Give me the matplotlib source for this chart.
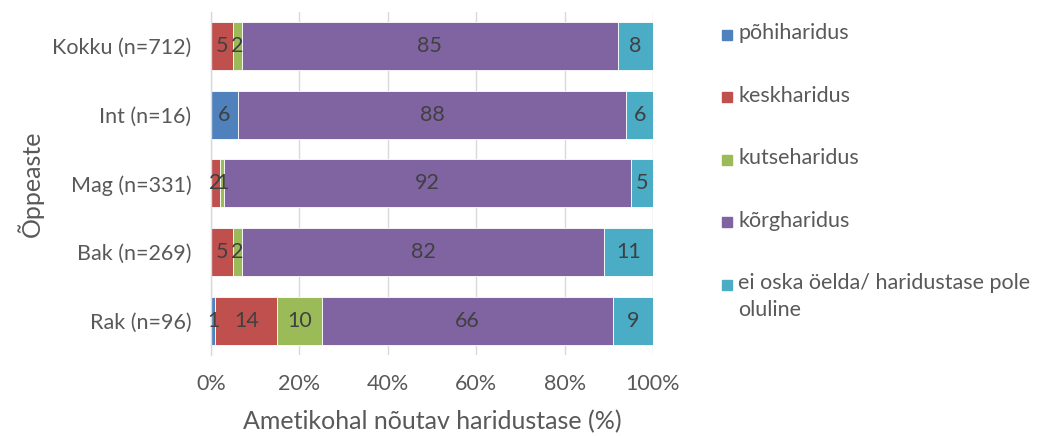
import matplotlib.pyplot as plt
from matplotlib.patches import Rectangle
import numpy as np

plt.rcParams['font.family'] = ['Lato', 'DejaVu Sans']

# Data (top to bottom as in the chart)
groups = ['Kokku (n=712)', 'Int (n=16)', 'Mag (n=331)', 'Bak (n=269)', 'Rak (n=96)']
series = ['põhiharidus', 'keskharidus', 'kutseharidus', 'kõrgharidus',
          'ei oska öelda/ haridustase pole\noluline']
pohi = [0, 6, 0, 0, 1]
kesk = [5, 0, 2, 5, 14]
kutse = [2, 0, 1, 2, 10]
korg = [85, 88, 92, 82, 66]
ei_oska = [8, 6, 5, 11, 9]
colors = ['#4F81BD', '#C0504D', '#9BBB59', '#8064A2', '#4BACC6']

values = [pohi, kesk, kutse, korg, ei_oska]

W, H = 1039, 436
fig = plt.figure(figsize=(W / 100, H / 100), dpi=100)
ax = fig.add_axes([0.2031, 0.186, 0.4254, 0.787])

y = np.arange(len(groups))
left = np.zeros(len(groups))
for vals, name, col in zip(values, series, colors):
    vals = np.array(vals, dtype=float)
    ax.barh(y, vals, left=left, height=0.7, color=col,
            edgecolor='white', linewidth=0.6, label=name)
    for yi, v, l in zip(y, vals, left):
        if v > 0:
            ax.text(l + v / 2, yi, f'{int(v)}', ha='center', va='center',
                    fontsize=15.5, color='#404040')
    left += vals

ax.set_xlim(0, 100)
ax.set_ylim(len(groups) - 0.5, -0.5)
ax.set_yticks(y)
ax.set_yticklabels(groups)
ax.set_xticks(np.arange(0, 101, 20))
ax.set_xticklabels([f'{t}%' for t in range(0, 101, 20)])
ax.tick_params(axis='both', length=0, labelsize=15.5, labelcolor='#595959')
ax.tick_params(axis='x', pad=14)
ax.tick_params(axis='y', pad=14)
ax.grid(axis='x', color='#D9D9D9', linewidth=1)
ax.set_axisbelow(True)
for s in ['top', 'right', 'bottom']:
    ax.spines[s].set_visible(False)
ax.spines['left'].set_color('#D9D9D9')
ax.spines['left'].set_linewidth(1)

ax.set_xlabel('Ametikohal nõutav haridustase (%)', fontsize=18, color='#595959', labelpad=11)
ax.set_ylabel('Õppeaste', fontsize=18, color='#595959', labelpad=6)

# legend drawn by hand so the wrapped entry keeps its marker on the first line
for i, (name, col) in enumerate(zip(series, colors)):
    yc = 35 + 62.5 * i
    fig.add_artist(Rectangle((722 / W, 1 - (yc + 5) / H), 10 / W, 10 / H,
                             transform=fig.transFigure, color=col))
    fig.text(738 / W, 1 - (yc - 12) / H, name, fontsize=15.5, color='#595959',
             ha='left', va='top', linespacing=1.45)

plt.savefig('out.png', dpi=100)
plt.close()
